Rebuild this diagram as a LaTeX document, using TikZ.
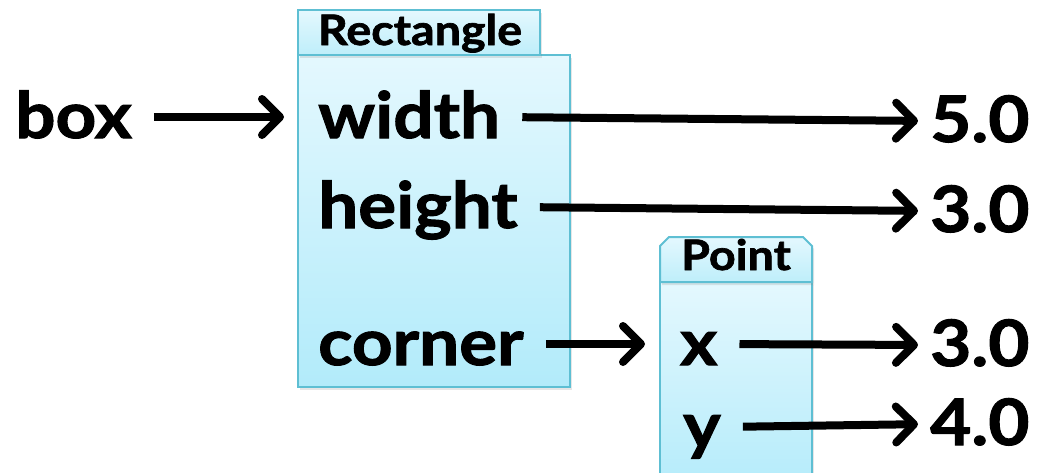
\documentclass[tikz,border=0pt]{standalone}
\usepackage{fontspec}
\setmainfont{Lato}[FakeStretch=1.11, BoldFeatures={FakeBold=1.6}]
\usetikzlibrary{arrows.meta,shadows}

\definecolor{boxedge}{RGB}{94,191,211}
\definecolor{boxtop}{RGB}{228,248,254}
\definecolor{boxbot}{RGB}{178,235,250}
\definecolor{tabbot}{RGB}{190,238,250}

\tikzset{
  lbl/.style={inner sep=0pt, anchor=base west, text height=42pt, text depth=0pt,
    font=\fontsize{64}{70}\selectfont\bfseries},
  tablbl/.style={inner sep=0pt, anchor=base, font=\fontsize{42}{48}\selectfont\bfseries},
  frame/.style={draw=boxedge, line width=2pt,
    drop shadow={opacity=.2, shadow xshift=2pt, shadow yshift=-3pt}},
  ptr/.style={line width=8pt, shorten <=22pt, shorten >=12pt,
    -{Straight Barb[length=18pt, width=36pt, line cap=round, line join=round]}},
}

\begin{document}
\begin{tikzpicture}[x=1pt, y=-1pt]
    \useasboundingbox (0,0) rectangle (1059,472);
    \clip (0,0) rectangle (1059,472);

    % Rectangle frame
      \path[frame, top color=boxtop, bottom color=boxbot] (298,55) rectangle (570,387);
      \path[frame, top color=boxtop, bottom color=tabbot] (298,10) rectangle (540,55);
      \node[tablbl] (rectname) at (420,45) {Rectangle};

    % Point frame
      \path[frame, top color=boxtop, bottom color=boxbot] (660,282) rectangle (812,500);
      \path[frame, top color=boxtop, bottom color=tabbot]
        (660,282) -- (660,246) -- (669,237) -- (803,237) -- (812,246) -- (812,282) -- cycle;
      \node[tablbl] (pointname) at (736,270) {Point};

    % Draw the labels
      \node[lbl] (box)    at (15,138)  {box};
      \node[lbl] (width)  at (318,138) {width};
      \node[lbl] (height) at (318,228) {height};
      \node[lbl] (corner) at (318,365) {corner};
      \node[lbl] (x)      at (680,365) {x};
      \node[lbl] (y)      at (683,448) {y};

    % Draw the values
      \node[lbl] (wval) at (930,142) {5.0};
      \node[lbl] (hval) at (930,232) {3.0};
      \node[lbl] (xval) at (930,366) {3.0};
      \node[lbl] (yval) at (930,445) {4.0};

    % frame entry points
      \coordinate (rectin)  at (296,117);
      \coordinate (pointin) at (657,344);

    % Draw the arrows
      \draw[ptr] (box.east)    -- (rectin);
      \draw[ptr] (width.east)  -- (wval.west);
      \draw[ptr] (height.east) -- (hval.west);
      \draw[ptr] (corner.east) -- (pointin);
      \draw[ptr] (x.east)      -- (xval.west);
      \draw[ptr] (y.east)      -- (yval.west);

\end{tikzpicture}
\end{document}
